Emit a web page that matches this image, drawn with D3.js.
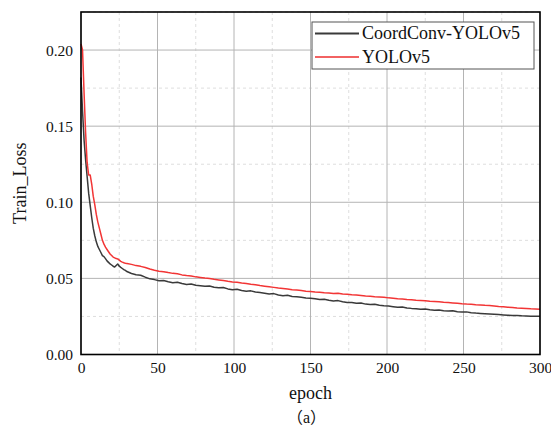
<!DOCTYPE html>
<html>
<head>
<meta charset="utf-8">
<script src="https://cdn.jsdelivr.net/npm/d3@7"></script>
<style>
  body { margin: 0; background: #fff; }
  text { font-family: "Liberation Serif", "Times New Roman", serif; fill: #111; }
</style>
</head>
<body>
<div id="chart"></div>
<script>
var svgWidth = 551;
var svgHeight = 430;

var margin = { top: 12, right: 11, bottom: 75.5, left: 81 };
var width = svgWidth - margin.left - margin.right;
var height = svgHeight - margin.top - margin.bottom;

// epochs 0..29 every epoch, then 30..300 every 3 epochs
var earlyEpochs = d3.range(0, 30);
var lateEpochs = d3.range(30, 301, 3);
var epochs = earlyEpochs.concat(lateEpochs);

var seriesNames = ["CoordConv-YOLOv5", "YOLOv5"];
var seriesColors = ["#3a3a3a", "#f23535"];
var legendColors = ["#3a3a3a", "#f26262"];

var coordEarly = [0.182, 0.160, 0.141, 0.128, 0.117, 0.106, 0.098, 0.090, 0.083, 0.078,
  0.074, 0.071, 0.069, 0.067, 0.065, 0.0643, 0.063, 0.0615, 0.0605, 0.0595,
  0.0588, 0.058, 0.0575, 0.0585, 0.0595, 0.058, 0.0572, 0.0565, 0.0558, 0.0552];
var coordLate = [0.0545, 0.0532, 0.0524, 0.0521, 0.0508, 0.0497, 0.0492, 0.0484, 0.0486, 0.0478,
  0.0472, 0.0475, 0.0466, 0.0460, 0.0463, 0.0455, 0.0452, 0.0448, 0.0450, 0.0442,
  0.0438, 0.0440, 0.0431, 0.0425, 0.0428, 0.0420, 0.0416, 0.0418, 0.0410, 0.0407,
  0.0403, 0.0398, 0.0400, 0.0391, 0.0386, 0.0389, 0.0381, 0.0379, 0.0376, 0.0371,
  0.0370, 0.0366, 0.0361, 0.0363, 0.0356, 0.0352, 0.0354, 0.0346, 0.0342, 0.0341,
  0.0336, 0.0338, 0.0331, 0.0328, 0.0330, 0.0323, 0.0320, 0.0318, 0.0314, 0.0310,
  0.0312, 0.0306, 0.0303, 0.0301, 0.0298, 0.0299, 0.0294, 0.0291, 0.0292, 0.0288,
  0.0286, 0.0287, 0.0281, 0.0279, 0.0280, 0.0275, 0.0272, 0.0270, 0.0268, 0.0266,
  0.0264, 0.0262, 0.0260, 0.0258, 0.0257, 0.0256, 0.0254, 0.0253, 0.0252, 0.0252, 0.0251];

var yoloEarly = [0.204, 0.200, 0.172, 0.146, 0.126, 0.118, 0.118, 0.112, 0.104, 0.0985,
  0.092, 0.087, 0.083, 0.079, 0.075, 0.0725, 0.0705, 0.069, 0.0675, 0.066,
  0.065, 0.064, 0.0635, 0.063, 0.0628, 0.062, 0.0612, 0.0607, 0.0603, 0.060];
var yoloLate = [0.0598, 0.0592, 0.0584, 0.0579, 0.0572, 0.0562, 0.0553, 0.0547, 0.0544, 0.0538,
  0.0533, 0.0530, 0.0523, 0.0519, 0.0516, 0.0510, 0.0506, 0.0502, 0.0499, 0.0494,
  0.0490, 0.0486, 0.0481, 0.0477, 0.0474, 0.0469, 0.0466, 0.0461, 0.0458, 0.0453,
  0.0449, 0.0445, 0.0441, 0.0437, 0.0434, 0.0430, 0.0426, 0.0423, 0.0420, 0.0416,
  0.0414, 0.0411, 0.0409, 0.0405, 0.0404, 0.0401, 0.0403, 0.0398, 0.0396, 0.0393,
  0.0391, 0.0388, 0.0385, 0.0383, 0.0380, 0.0378, 0.0376, 0.0372, 0.0370, 0.0367,
  0.0365, 0.0362, 0.0360, 0.0357, 0.0355, 0.0353, 0.0350, 0.0348, 0.0346, 0.0343,
  0.0341, 0.0339, 0.0336, 0.0333, 0.0331, 0.0330, 0.0327, 0.0325, 0.0323, 0.0322,
  0.0319, 0.0316, 0.0314, 0.0311, 0.0309, 0.0306, 0.0304, 0.0302, 0.0300, 0.0299, 0.0298];

var xTicks = [0, 50, 100, 150, 200, 250, 300];
var yTicks = [0.00, 0.05, 0.10, 0.15, 0.20];
var xMinor = [25, 75, 125, 175, 225, 275];
var yMinor = [0.025, 0.075, 0.125, 0.175, 0.225];

var seriesValues = [coordEarly.concat(coordLate), yoloEarly.concat(yoloLate)];

var svg = d3.select("#chart")
    .append("svg")
    .attr("width", svgWidth)
    .attr("height", svgHeight)
    .style("background", "#fff");

var chartGroup = svg.append("g")
    .attr("transform", `translate(${margin.left}, ${margin.top})`);

var xScale = d3.scaleLinear().domain([0, 300]).range([0, width]);
var yScale = d3.scaleLinear().domain([0, 0.225]).range([height, 0]);

// minor grid (dashed)
chartGroup.append("g")
    .selectAll("line")
    .data(xMinor)
    .enter()
    .append("line")
    .attr("x1", d => xScale(d)).attr("x2", d => xScale(d))
    .attr("y1", 0).attr("y2", height)
    .attr("stroke", "#dedede").attr("stroke-dasharray", "3,3");

chartGroup.append("g")
    .selectAll("line")
    .data(yMinor)
    .enter()
    .append("line")
    .attr("x1", 0).attr("x2", width)
    .attr("y1", d => yScale(d)).attr("y2", d => yScale(d))
    .attr("stroke", "#dedede").attr("stroke-dasharray", "3,3");

// major grid
chartGroup.append("g")
    .selectAll("line")
    .data(xTicks)
    .enter()
    .append("line")
    .attr("x1", d => xScale(d)).attr("x2", d => xScale(d))
    .attr("y1", 0).attr("y2", height)
    .attr("stroke", "#b4b4b4");

chartGroup.append("g")
    .selectAll("line")
    .data(yTicks)
    .enter()
    .append("line")
    .attr("x1", 0).attr("x2", width)
    .attr("y1", d => yScale(d)).attr("y2", d => yScale(d))
    .attr("stroke", "#b4b4b4");

// axes (labels only, no tick marks)
var bottomAxis = d3.axisBottom(xScale).tickValues(xTicks).tickSize(0).tickPadding(7)
    .tickFormat(d3.format("d"));
var leftAxis = d3.axisLeft(yScale).tickValues(yTicks).tickSize(0).tickPadding(8)
    .tickFormat(d3.format(".2f"));

var xAxisG = chartGroup.append("g")
    .attr("transform", `translate(0, ${height})`)
    .call(bottomAxis);
var yAxisG = chartGroup.append("g")
    .call(leftAxis);

[xAxisG, yAxisG].forEach(g => {
    g.attr("font-family", null).attr("font-size", null);
    g.select(".domain").remove();
    g.selectAll("text")
        .style("font-family", "'Liberation Serif', serif")
        .style("font-size", "15.5px")
        .attr("fill", "#111");
});

// lines
var line = d3.line()
    .x((d, i) => xScale(epochs[i]))
    .y(d => yScale(d));

chartGroup.selectAll("path.series")
    .data(seriesValues)
    .enter()
    .append("path")
    .attr("class", "series")
    .attr("d", d => line(d))
    .attr("fill", "none")
    .attr("stroke", (d, i) => seriesColors[i])
    .attr("stroke-width", 1.5)
    .attr("stroke-linejoin", "round");

// frame
chartGroup.append("rect")
    .attr("width", width)
    .attr("height", height)
    .attr("fill", "none")
    .attr("stroke", "#000")
    .attr("stroke-width", 1.6);

// legend
var legend = svg.append("g").attr("transform", "translate(312, 22)");
legend.append("rect")
    .attr("width", 222)
    .attr("height", 47)
    .attr("fill", "#fff")
    .attr("stroke", "#555")
    .attr("stroke-width", 1);

var legendItems = legend.selectAll("g.item")
    .data(seriesNames)
    .enter()
    .append("g")
    .attr("transform", (d, i) => `translate(0, ${11.5 + i * 23.5})`);

legendItems.append("line")
    .attr("x1", 3).attr("x2", 47)
    .attr("stroke", (d, i) => legendColors[i])
    .attr("stroke-width", 2);

legendItems.append("text")
    .attr("x", 50)
    .attr("dy", "0.33em")
    .attr("font-size", 18)
    .text(d => d);

// axis titles
svg.append("text")
    .attr("transform", `translate(26, ${margin.top + height / 2}) rotate(-90)`)
    .attr("text-anchor", "middle")
    .attr("font-size", 18)
    .text("Train_Loss");

svg.append("text")
    .attr("x", margin.left + width / 2)
    .attr("y", 399)
    .attr("text-anchor", "middle")
    .attr("font-size", 18)
    .text("epoch");

var caption = svg.append("text")
    .attr("x", margin.left + width / 2 - 4)
    .attr("y", 423)
    .attr("text-anchor", "middle")
    .attr("font-size", 16);
caption.append("tspan").style("font-family", "'Noto Sans CJK SC', sans-serif").text("（");
caption.append("tspan").text("a");
caption.append("tspan").style("font-family", "'Noto Sans CJK SC', sans-serif").text("）");
</script>
</body>
</html>
